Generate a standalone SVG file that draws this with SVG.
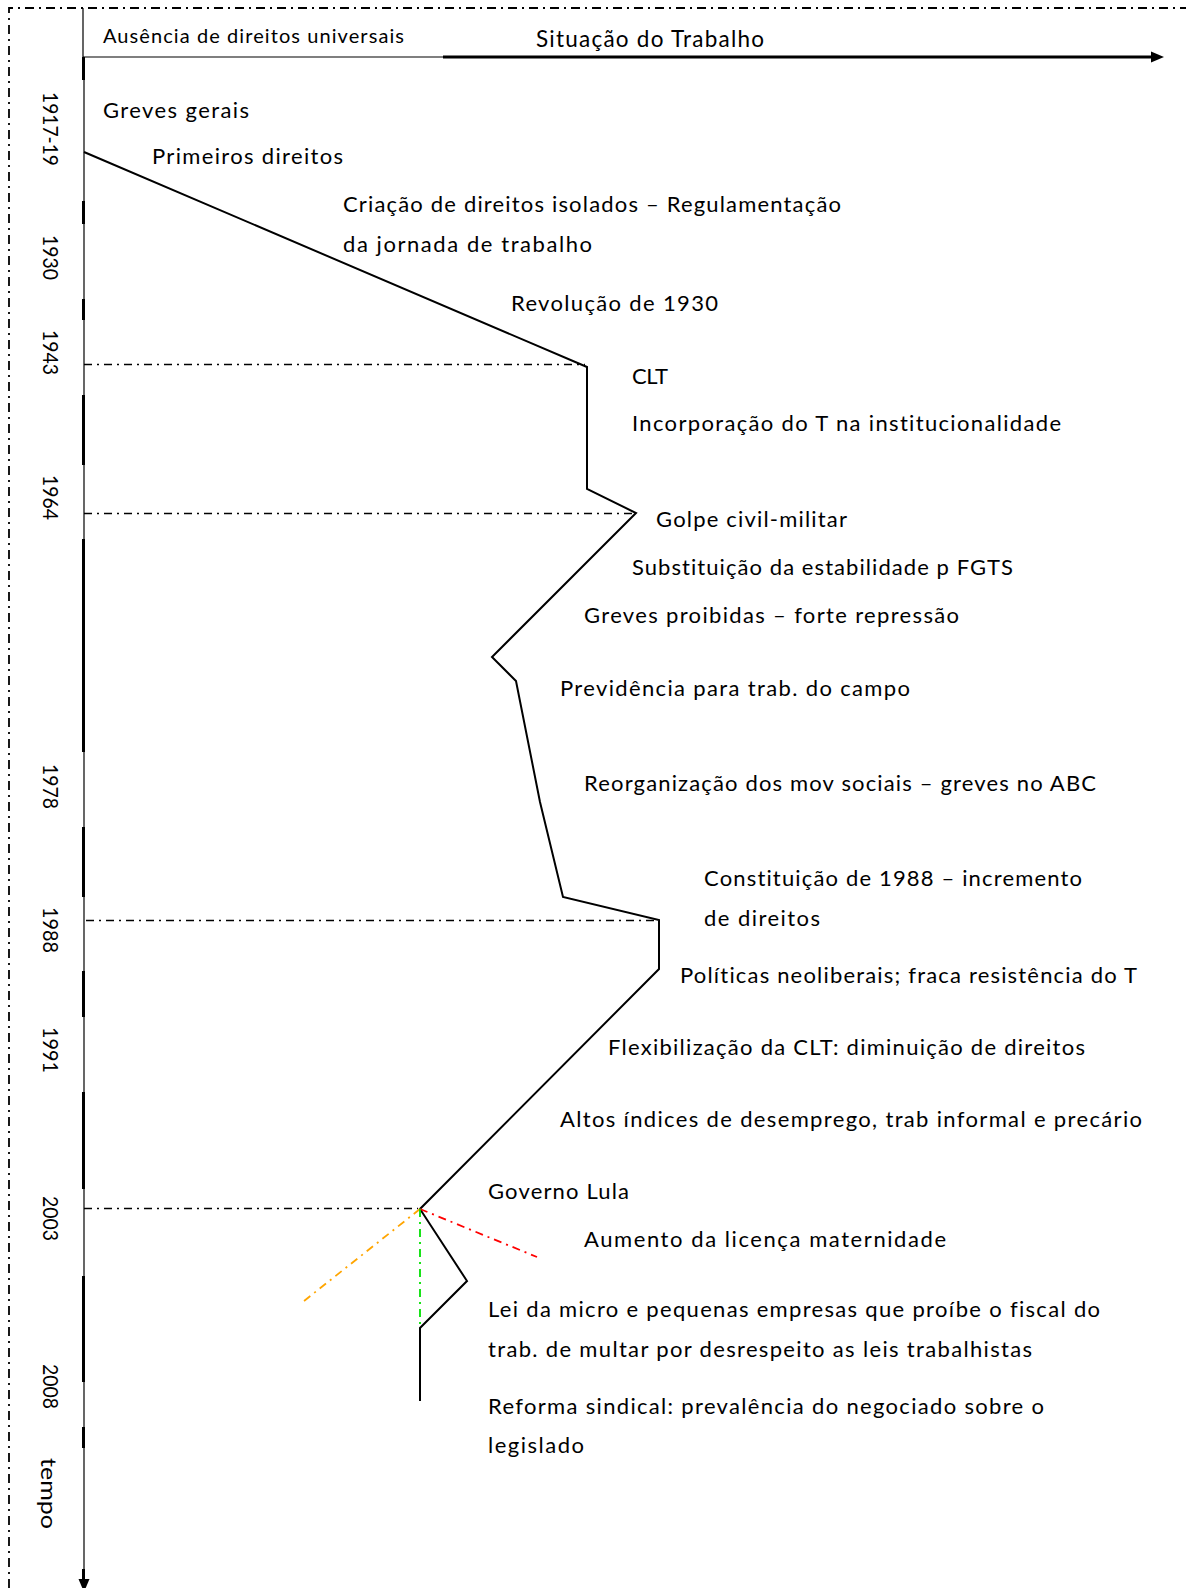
<svg xmlns="http://www.w3.org/2000/svg" width="1186" height="1588" viewBox="0 0 1186 1588">
<defs>
<style>
text{font-variant-ligatures:none;font-feature-settings:"liga" 0,"dlig" 0}
.t{font-family:Lato,"Liberation Sans",sans-serif;font-size:22px;fill:#000}
.h{font-family:Lato,"Liberation Sans",sans-serif;font-size:22.5px;fill:#000}
.s{font-family:Lato,"Liberation Sans",sans-serif;font-size:20px;fill:#000}
.y{font-family:Lato,"Liberation Sans",sans-serif;font-size:21.5px;fill:#000}
.dd{fill:none;stroke:#000;stroke-width:1.5;stroke-dasharray:8 5 2 5}
.brd{fill:none;stroke:#000;stroke-width:1.8;stroke-dasharray:9 5 2 5}
.thin{fill:none;stroke:#000;stroke-width:1.2}
.thick{fill:none;stroke:#000;stroke-width:3}
.pl{fill:none;stroke:#000;stroke-width:2;stroke-linejoin:miter}
.cl{fill:none;stroke-width:1.8;stroke-dasharray:8 5 2 5}
</style>
</defs>
<rect width="1186" height="1588" fill="#fff"/>
<path class="brd" d="M9,1588 V8 H1186"/>
<g id="axes">
<path class="thin" d="M83,8 V57 H444"/>
<path class="thick" d="M443,57 H1152"/>
<polygon points="1151,51.5 1164,57 1151,62.5" fill="#000"/>
<path class="thin" d="M84,57 V1580"/>
<path class="thick" d="M83.5,57 V80 M83.5,201 V224 M83.5,299 V320 M83.5,395 V465 M83.5,539 V752 M83.5,827 V897 M83.5,971 V1017 M83.5,1092 V1189 M83.5,1276 V1382 M83.5,1427 V1448 M83.5,1569 V1582"/>
<polygon points="78.5,1579 89.5,1579 84,1592" fill="#000"/>
</g>
<g id="years">
<text class="y" transform="translate(43,92) rotate(90)" textLength="74" lengthAdjust="spacingAndGlyphs">1917-19</text>
<text class="y" transform="translate(43,235) rotate(90)" textLength="45" lengthAdjust="spacingAndGlyphs">1930</text>
<text class="y" transform="translate(43,330) rotate(90)" textLength="45" lengthAdjust="spacingAndGlyphs">1943</text>
<text class="y" transform="translate(43,475) rotate(90)" textLength="45" lengthAdjust="spacingAndGlyphs">1964</text>
<text class="y" transform="translate(43,764) rotate(90)" textLength="45" lengthAdjust="spacingAndGlyphs">1978</text>
<text class="y" transform="translate(43,907) rotate(90)" textLength="46" lengthAdjust="spacingAndGlyphs">1988</text>
<text class="y" transform="translate(43,1027) rotate(90)" textLength="46" lengthAdjust="spacingAndGlyphs">1991</text>
<text class="y" transform="translate(43,1196) rotate(90)" textLength="45" lengthAdjust="spacingAndGlyphs">2003</text>
<text class="y" transform="translate(43,1364) rotate(90)" textLength="45" lengthAdjust="spacingAndGlyphs">2008</text>
<text class="y" transform="translate(41,1458) rotate(90)" textLength="71" lengthAdjust="spacingAndGlyphs">tempo</text>
</g>
<g id="connectors">
<path class="dd" d="M84,364.5 H585"/>
<path class="dd" d="M84,513.5 H634"/>
<path class="dd" d="M86,920.5 H657"/>
<path class="dd" d="M84,1208.5 H418"/>
<path class="pl" d="M84,152 L587,367 L587,489 L636,513 L492,657 L516,681 L540,802 L563,897 L659,920 L659,969 L420,1209 L467,1281 L420,1328 L420,1401"/>
<path class="cl" stroke="#ff0000" d="M420,1209 L537,1257"/>
<path class="cl" stroke="#ffa500" d="M420,1209 L304,1301"/>
<path class="cl" stroke="#00e000" d="M420,1209 L420,1327"/>
</g>
<g id="header">
<text class="s" x="103" y="43" textLength="301" lengthAdjust="spacing">Ausência de direitos universais</text>
<text class="h" x="536" y="46.5" textLength="228" lengthAdjust="spacing">Situação do Trabalho</text>
</g>
<g id="labels">
<text id="n1" class="t" x="103" y="117.5" textLength="146" lengthAdjust="spacing">Greves gerais</text>
<text id="n2" class="t" x="152" y="163.5" textLength="191" lengthAdjust="spacing">Primeiros direitos</text>
<text id="n3" class="t" x="343" y="212" textLength="498" lengthAdjust="spacing">Criação de direitos isolados – Regulamentação</text>
<text id="n4" class="t" x="343" y="251.5" textLength="249" lengthAdjust="spacing">da jornada de trabalho</text>
<text id="n5" class="t" x="511" y="310.5" textLength="207" lengthAdjust="spacing">Revolução de 1930</text>
<text id="n6" class="t" x="632" y="383.5" textLength="36" lengthAdjust="spacing">CLT</text>
<text id="n7" class="t" x="632" y="430.5" textLength="429" lengthAdjust="spacing">Incorporação do T na institucionalidade</text>
<text id="n8" class="t" x="656" y="527" textLength="191" lengthAdjust="spacing">Golpe civil-militar</text>
<text id="n9" class="t" x="632" y="574.5" textLength="381" lengthAdjust="spacing">Substituição da estabilidade p FGTS</text>
<text id="n10" class="t" x="584" y="622.5" textLength="375" lengthAdjust="spacing">Greves proibidas – forte repressão</text>
<text id="n11" class="t" x="560" y="695.5" textLength="350" lengthAdjust="spacing">Previdência para trab. do campo</text>
<text id="n12" class="t" x="584" y="790.5" textLength="512" lengthAdjust="spacing">Reorganização dos mov sociais – greves no ABC</text>
<text id="n13" class="t" x="704" y="885.5" textLength="378" lengthAdjust="spacing">Constituição de 1988 – incremento</text>
<text id="n14" class="t" x="704" y="925.5" textLength="116" lengthAdjust="spacing">de direitos</text>
<text id="n15" class="t" x="680" y="982.5" textLength="457" lengthAdjust="spacing">Políticas neoliberais; fraca resistência do T</text>
<text id="n16" class="t" x="608" y="1054.5" textLength="477" lengthAdjust="spacing">Flexibilização da CLT: diminuição de direitos</text>
<text id="n17" class="t" x="560" y="1126.5" textLength="582" lengthAdjust="spacing">Altos índices de desemprego, trab informal e precário</text>
<text id="n18" class="t" x="488" y="1198.5" textLength="141" lengthAdjust="spacing">Governo Lula</text>
<text id="n19" class="t" x="584" y="1246.5" textLength="362" lengthAdjust="spacing">Aumento da licença maternidade</text>
<text id="n20" class="t" x="488" y="1316.5" textLength="612" lengthAdjust="spacing">Lei da micro e pequenas empresas que proíbe o fiscal do</text>
<text id="n21" class="t" x="488" y="1356.5" textLength="544" lengthAdjust="spacing">trab. de multar por desrespeito as leis trabalhistas</text>
<text id="n22" class="t" x="488" y="1413.5" textLength="556" lengthAdjust="spacing">Reforma sindical: prevalência do negociado sobre o</text>
<text id="n23" class="t" x="488" y="1452.5" textLength="96" lengthAdjust="spacing">legislado</text>
</g>
</svg>
